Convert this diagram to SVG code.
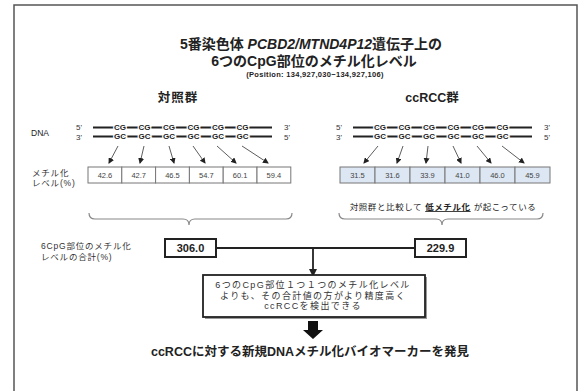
<svg xmlns="http://www.w3.org/2000/svg" width="584" height="391" viewBox="0 0 584 391">
<style>
text{font-family:"Liberation Sans","Noto Sans CJK JP",sans-serif;fill:#222}
.b{font-weight:bold}
.strand{stroke:#222;stroke-width:2.2;fill:none}
.base{font-size:8px;font-weight:bold;text-anchor:middle;stroke:#fff;stroke-width:2.5;paint-order:stroke}
.prime{font-size:8px;fill:#333}
.cell{fill:#fff;stroke:#777;stroke-width:1}
.cellb{fill:#dde7f3;stroke:#777;stroke-width:1}
.num{font-size:7.5px;text-anchor:middle;fill:#444}
.arr{stroke:#333;stroke-width:0.8;fill:none;marker-end:url(#ah)}
.lbl{font-size:8.5px;fill:#333;letter-spacing:0.8px}
.brace{stroke:#888;stroke-width:1.2;fill:none}
.sum{fill:#fff;stroke:#222;stroke-width:2}
.sumt{font-size:11px;font-weight:bold;text-anchor:middle}
.conn{stroke:#222;stroke-width:1.8;fill:none}
.res{font-size:9px;fill:#333;letter-spacing:1.4px;text-anchor:middle}
</style>
<defs>
<marker id="ah" markerWidth="6" markerHeight="6" refX="5" refY="3" orient="auto" markerUnits="userSpaceOnUse">
<path d="M0,0 L6,3 L0,6 z" fill="#222"/>
</marker>
<marker id="ah2" markerWidth="8" markerHeight="8" refX="6" refY="4" orient="auto" markerUnits="userSpaceOnUse">
<path d="M0,0 L8,4 L0,8 z" fill="#222"/>
</marker>
</defs>
<rect x="14" y="5" width="563" height="400" fill="#fff" stroke="#555" stroke-width="1.5"/>

<g id="title">
<text x="311" y="48.5" text-anchor="middle" font-size="14" class="b">5番染色体 <tspan font-style="italic">PCBD2/MTND4P12</tspan>遺伝子上の</text>
<text x="314" y="65.5" text-anchor="middle" font-size="14" class="b">6つのCpG部位のメチル化レベル</text>
<text x="315" y="77" text-anchor="middle" font-size="7.5" fill="#555" class="b" letter-spacing="0.3">(Position: 134,927,030−134,927,106)</text>
</g>

<g id="control">
<text x="178" y="101.5" text-anchor="middle" font-size="12.5" class="b" letter-spacing="1">対照群</text>
<text x="31" y="136" font-size="8.5" fill="#333">DNA</text>
<text x="76" y="130" class="prime">5'</text>
<text x="76" y="139.5" class="prime">3'</text>
<text x="284" y="130" class="prime">3'</text>
<text x="284" y="139.5" class="prime">5'</text>
<line class="strand" x1="93" y1="127.5" x2="272" y2="127.5"/>
<line class="strand" x1="93" y1="136.5" x2="272" y2="136.5"/>
<text class="base" x="120" y="130.4">CG</text><text class="base" x="144.5" y="130.4">CG</text><text class="base" x="169" y="130.4">CG</text><text class="base" x="193.5" y="130.4">CG</text><text class="base" x="218" y="130.4">CG</text><text class="base" x="242.5" y="130.4">CG</text>
<text class="base" x="120" y="139.4">GC</text><text class="base" x="144.5" y="139.4">GC</text><text class="base" x="169" y="139.4">GC</text><text class="base" x="193.5" y="139.4">GC</text><text class="base" x="218" y="139.4">GC</text><text class="base" x="242.5" y="139.4">GC</text>
<text class="lbl" x="32" y="176">メチル化</text>
<text class="lbl" x="32" y="186">レベル(%)</text>
<rect class="cell" x="88" y="167" width="33.8" height="16"/><rect class="cell" x="121.8" y="167" width="33.8" height="16"/><rect class="cell" x="155.6" y="167" width="33.8" height="16"/><rect class="cell" x="189.4" y="167" width="33.8" height="16"/><rect class="cell" x="223.2" y="167" width="33.8" height="16"/><rect class="cell" x="257" y="167" width="33.8" height="16"/>
<text class="num" x="105" y="178">42.6</text><text class="num" x="138.7" y="178">42.7</text><text class="num" x="172.5" y="178">46.5</text><text class="num" x="206.3" y="178">54.7</text><text class="num" x="240.1" y="178">60.1</text><text class="num" x="273.9" y="178">59.4</text>
<path class="brace" d="M89,213 Q89,219 95,219 L183,219 Q189,219 189,225 Q189,219 195,219 L286,219 Q292,219 292,213"/>
</g>

<g id="ccrcc">
<text x="432" y="101.5" text-anchor="middle" font-size="12.5" class="b">ccRCC群</text>
<text x="336" y="130" class="prime">5'</text>
<text x="336" y="139.5" class="prime">3'</text>
<text x="544" y="130" class="prime">3'</text>
<text x="544" y="139.5" class="prime">5'</text>
<line class="strand" x1="353" y1="127.5" x2="532" y2="127.5"/>
<line class="strand" x1="353" y1="136.5" x2="532" y2="136.5"/>
<text class="base" x="380" y="130.4">CG</text><text class="base" x="404.5" y="130.4">CG</text><text class="base" x="429" y="130.4">CG</text><text class="base" x="453.5" y="130.4">CG</text><text class="base" x="478" y="130.4">CG</text><text class="base" x="502.5" y="130.4">CG</text>
<text class="base" x="380" y="139.4">GC</text><text class="base" x="404.5" y="139.4">GC</text><text class="base" x="429" y="139.4">GC</text><text class="base" x="453.5" y="139.4">GC</text><text class="base" x="478" y="139.4">GC</text><text class="base" x="502.5" y="139.4">GC</text>
<rect class="cellb" x="340" y="167" width="35" height="16"/><rect class="cellb" x="375" y="167" width="35" height="16"/><rect class="cellb" x="410" y="167" width="35" height="16"/><rect class="cellb" x="445" y="167" width="35" height="16"/><rect class="cellb" x="480" y="167" width="35" height="16"/><rect class="cellb" x="515" y="167" width="35" height="16"/>
<text class="num" x="357.5" y="178">31.5</text><text class="num" x="392.5" y="178">31.6</text><text class="num" x="427.5" y="178">33.9</text><text class="num" x="462.5" y="178">41.0</text><text class="num" x="497.5" y="178">46.0</text><text class="num" x="532.5" y="178">45.9</text>
<text x="443" y="210" text-anchor="middle" font-size="8.5" fill="#444" letter-spacing="0.6">対照群と比較して <tspan class="b" fill="#222" text-decoration="underline">低メチル化</tspan> が起こっている</text>
<path class="brace" d="M339,213 Q339,219 345,219 L436,219 Q442,219 442,225 Q442,219 448,219 L537,219 Q543,219 543,213"/>
</g>

<g id="connectors">
<line class="arr" x1="118" y1="146" x2="109" y2="163"/>
<line class="arr" x1="144" y1="146" x2="140" y2="163"/>
<line class="arr" x1="169" y1="146" x2="174" y2="163"/>
<line class="arr" x1="193" y1="146" x2="205" y2="163"/>
<line class="arr" x1="217" y1="146" x2="236" y2="163"/>
<line class="arr" x1="242" y1="146" x2="268" y2="163"/>
<line class="arr" x1="378" y1="146" x2="364" y2="163"/>
<line class="arr" x1="403" y1="146" x2="397" y2="163"/>
<line class="arr" x1="428" y1="146" x2="426" y2="163"/>
<line class="arr" x1="453" y1="146" x2="461" y2="163"/>
<line class="arr" x1="477" y1="146" x2="491" y2="163"/>
<line class="arr" x1="502" y1="146" x2="524" y2="163"/>
<line class="conn" x1="216" y1="248" x2="415" y2="248"/>
<line class="conn" x1="313" y1="248" x2="313" y2="275" marker-end="url(#ah2)"/>
<polygon points="308,321 318,321 318,330 323,330 313,339 303,330 308,330" fill="#111"/>
</g>

<g id="sums">
<text class="lbl" x="41" y="249">6CpG部位のメチル化</text>
<text class="lbl" x="41" y="260">レベルの合計(%)</text>
<rect class="sum" x="165" y="239" width="51" height="18"/>
<text class="sumt" x="190.5" y="252">306.0</text>
<rect class="sum" x="415" y="239" width="51" height="18"/>
<text class="sumt" x="440.5" y="252">229.9</text>
</g>

<g id="result">
<rect x="205" y="277" width="222" height="42" fill="#999"/>
<rect x="203" y="275" width="222" height="42" fill="#fff" stroke="#222" stroke-width="1.8"/>
<text class="res" x="313" y="288">6つのCpG部位１つ１つのメチル化レベル</text>
<text class="res" x="313" y="298.5">よりも、その合計値の方がより精度高く</text>
<text class="res" x="313" y="309">ccRCCを検出できる</text>
</g>

<g id="conclusion">
<text x="310" y="356" text-anchor="middle" font-size="12.5" class="b">ccRCCに対する新規DNAメチル化バイオマーカーを発見</text>
</g>
</svg>
